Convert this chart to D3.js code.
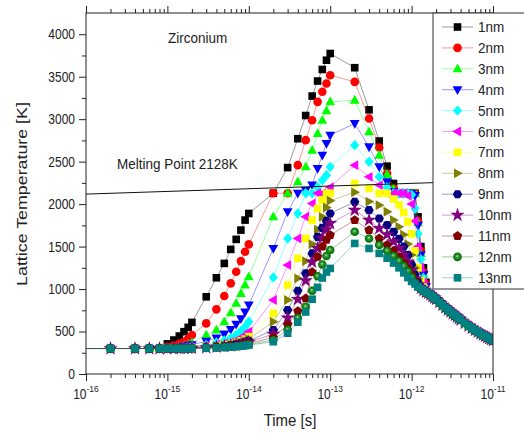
<!DOCTYPE html>
<html>
<head>
<meta charset="utf-8">
<script src="https://cdn.jsdelivr.net/npm/d3@7"></script>
<style>
  body { margin: 0; background: #fff; }
  svg { display: block; }
  text { font-family: "Liberation Sans", Arial, sans-serif; fill: #222; }
</style>
</head>
<body>
<svg id="chart" width="524" height="433"></svg>
<script>
// ---- time grid (s) for the heating / peak part of each run ----
const times = [
  5e-17, 2e-16, 4e-16, 6e-16, 8e-16,
  1e-15, 1.2e-15, 1.4e-15, 1.6e-15, 1.8e-15, 2e-15,
  3e-15, 4e-15, 5e-15, 6e-15, 7e-15, 8e-15, 9e-15, 1e-14,
  2e-14, 3e-14, 4e-14, 5e-14, 6e-14, 7e-14, 8e-14, 9e-14, 1e-13,
  2e-13, 3e-13, 4e-13, 5e-13, 6e-13, 7e-13, 8e-13, 9e-13, 1e-12,
  1.1e-12, 1.2e-12, 1.3e-12, 1.4e-12, 1.5e-12
];

// ---- lattice temperature (K) per particle size ----
const temp1nm  = [300,300,300,300,300, 355,400,447,498,549,608, 909,1133,1302,1467,1585,1694,1812,1890, 2128,2430,2770,3043,3272,3449,3585,3694,3773, 3606,3110,2743,2447,2243,2128,2128,2128,2128, 2128,1850,1500,1250,1080];
const temp2nm  = [300,300,300,300,300, 320,335,355,380,415,459, 596,761,918,1067,1204,1329,1439,1526, 2128,2128,2459,2753,2988,3204,3322,3420,3518, 3439,3008,2667,2361,2190,2128,2128,2128,2128, 2128,1800,1450,1200,1060];
const temp3nm  = [300,300,300,300,300, 305,312,322,335,350,370, 459,518,615,721,832,949,1047,1145, 1851,2128,2262,2439,2635,2831,2988,3100,3204, 3224,2851,2576,2350,2180,2128,2128,2128,2128, 2128,1780,1420,1180,1040];
const temp4nm  = [300,300,300,300,300, 303,308,315,325,335,345, 385,425,470,525,585,650,730,812, 1478,1910,2128,2160,2224,2420,2576,2714,2812, 2949,2674,2439,2262,2150,2128,2128,2128,2128, 2100,1750,1400,1170,1030];
const temp5nm  = [300,300,300,300,300, 302,305,308,312,318,325, 345,370,395,425,460,505,555,615, 1137,1596,1890,2128,2128,2200,2280,2341,2439, 2694,2498,2321,2200,2128,2128,2128,2128,2110, 1950,1650,1350,1130,1010];
const temp6nm  = [300,300,300,300,300, 301,303,305,308,311,315, 330,345,360,378,398,425,460,500, 871,1282,1596,1851,2008,2128,2128,2128,2200, 2459,2321,2224,2128,2128,2128,2128,2100,2000, 1800,1500,1250,1080,990];
const temp7nm  = [300,300,300,300,300, 300,302,304,306,308,310, 322,335,346,358,372,390,410,440, 714,1047,1361,1596,1812,1949,2050,2128,2128, 2243,2184,2128,2128,2060,1990,1900,1790,1650, 1450,1250,1100,1020,980];
const temp8nm  = [300,300,300,300,300, 300,301,303,305,306,308, 318,328,338,347,358,372,390,410, 615,871,1126,1330,1530,1700,1850,1960,2040, 2140,2030,1988,1910,1812,1733,1640,1530,1400, 1250,1120,1040,1000,975];
const temp9nm  = [300,300,300,300,300, 300,300,302,303,305,306, 314,322,330,338,348,360,375,390, 518,753,980,1185,1420,1615,1720,1800,1890, 2027,1929,1831,1753,1674,1590,1500,1400,1290, 1170,1080,1030,995,972];
const temp10nm = [300,300,300,300,300, 300,300,301,302,303,305, 311,318,325,332,340,350,362,375, 470,660,880,1100,1321,1480,1600,1700,1773, 1929,1812,1714,1640,1560,1480,1400,1320,1220, 1120,1050,1010,985,965];
const temp11nm = [300,300,300,300,300, 300,300,300,301,302,303, 308,314,320,326,333,340,350,360, 430,580,740,890,1200,1380,1500,1580,1635, 1812,1694,1596,1520,1450,1380,1310,1240,1170, 1090,1030,1000,978,960];
const temp12nm = [300,300,300,300,300, 300,300,300,300,301,302, 306,311,316,321,327,333,340,348, 400,520,660,792,980,1150,1290,1390,1459, 1674,1596,1518,1450,1390,1330,1270,1210,1140, 1075,1025,995,975,958];
const temp13nm = [300,300,300,300,300, 300,300,300,300,300,301, 305,309,313,317,322,327,333,340, 380,480,610,730,880,1020,1130,1200,1243, 1537,1478,1420,1364,1306,1250,1190,1135,1090, 1060,1030,1005,985,965];

// ---- common cooling tail: all sizes overlap here ----
const tailTimes = [1.6e-12,1.7e-12,1.8e-12,1.9e-12,2e-12, 2.2e-12,2.4e-12,2.6e-12,2.8e-12,3e-12,3.2e-12,3.4e-12,3.6e-12,3.8e-12,4e-12,
  4.5e-12,5e-12,5.5e-12,6e-12,6.5e-12,7e-12,7.5e-12,8e-12,8.5e-12,9e-12,9.5e-12,1e-11];
const tailTemps = [952,935,915,896,880, 845,812,782,756,733,712,692,673,655,638,
  600,567,540,516,495,476,460,445,431,418,406,395];

const seriesNames  = ["1nm","2nm","3nm","4nm","5nm","6nm","7nm","8nm","9nm","10nm","11nm","12nm","13nm"];
const seriesTemps  = [temp1nm,temp2nm,temp3nm,temp4nm,temp5nm,temp6nm,temp7nm,temp8nm,temp9nm,temp10nm,temp11nm,temp12nm,temp13nm];
const seriesColors = ["#000000","#ff0000","#00ff00","#0000ff","#00ffff","#ff00ff","#ffff00","#808000","#000080","#800080","#800000","#008000","#008080"];
const seriesShapes = ["square","circle","triUp","triDown","diamond","triLeft","square","triRight","hexagon","star","pentagon","sphere","square"];

// melting-point reference line
const meltTimes = [1e-16, 1e-11];
const meltTemps = [2118, 2276];

// axis ticks
const xDecades = [1e-16, 1e-15, 1e-14, 1e-13, 1e-12, 1e-11];
const yMajor = [0,500,1000,1500,2000,2500,3000,3500,4000];
const yMinor = [250,750,1250,1750,2250,2750,3250,3750];

// ---------------------------------------------------------------
const STRETCH = 1.15;   // text in this figure is drawn slightly tall
const svg = d3.select("#chart");
svg.append("rect").attr("width",524).attr("height",433).attr("fill","#fff");

const L = 86, R = 493, T = 13, B = 374;
const x = d3.scaleLog().domain([1e-16, 1e-11]).range([L, R]);
const y = d3.scaleLinear().domain([0, 4250]).range([B, T]);

const defs = svg.append("defs");
defs.append("clipPath").attr("id","plotClip")
  .append("rect").attr("x",L).attr("y",T).attr("width",R-L).attr("height",B-T);
const grad = defs.append("radialGradient").attr("id","sphereFill")
  .attr("cx","0.5").attr("cy","0.5").attr("r","0.5").attr("fx","0.45").attr("fy","0.4");
grad.append("stop").attr("offset","0").attr("stop-color","#b8e6b8");
grad.append("stop").attr("offset","0.35").attr("stop-color","#2e9a2e");
grad.append("stop").attr("offset","1").attr("stop-color","#006400");

function polygon(n, r, rot) {
  const pts = d3.range(n).map(i => {
    const a = rot + i * 2 * Math.PI / n;
    return [r * Math.cos(a), r * Math.sin(a)];
  });
  return "M" + pts.map(p => p[0].toFixed(2) + "," + p[1].toFixed(2)).join("L") + "Z";
}
function markerPath(shape) {
  switch (shape) {
    case "square":   return "M-3.8,-3.8H3.8V3.8H-3.8Z";
    case "circle":
    case "sphere":   return d3.symbol(d3.symbolCircle, 58)();
    case "triUp":    return "M0,-5.3L4.9,3.5L-4.9,3.5Z";
    case "triDown":  return "M0,5.3L4.9,-3.5L-4.9,-3.5Z";
    case "triLeft":  return "M-5.3,0L3.5,-4.9L3.5,4.9Z";
    case "triRight": return "M5.3,0L-3.5,-4.9L-3.5,4.9Z";
    case "diamond":  return "M0,-5.2L4.6,0L0,5.2L-4.6,0Z";
    case "hexagon":  return polygon(6, 4.7, 0);
    case "pentagon": return polygon(5, 4.9, -Math.PI / 2);
    case "star":     return d3.symbol(d3.symbolStar, 64)();
  }
}

// ---- series ----
const seriesData = seriesTemps.map((vals, i) => ({
  name: seriesNames[i], color: seriesColors[i], shape: seriesShapes[i],
  points: times.map((t, j) => [t, vals[j]]).concat(tailTimes.map((t, j) => [t, tailTemps[j]]))
}));

const plot = svg.append("g").attr("clip-path","url(#plotClip)");
const line = d3.line().x(d => x(d[0])).y(d => y(d[1]));

seriesData.forEach(s => {
  const g = plot.append("g");
  g.append("path").attr("d", line(s.points)).attr("fill","none")
    .attr("stroke", s.color).attr("stroke-width",0.8).attr("stroke-opacity",0.5);
  g.selectAll("path.m").data(s.points).join("path").attr("class","m")
    .attr("transform", d => `translate(${x(d[0])},${y(d[1])})`)
    .attr("d", markerPath(s.shape))
    .attr("fill", s.shape === "sphere" ? "url(#sphereFill)" : s.color);
});

// melting point line
plot.append("path")
  .attr("d", line(meltTimes.map((t, i) => [t, meltTemps[i]])))
  .attr("fill","none").attr("stroke","#111").attr("stroke-width",1);

// ---- axes ----
const xMinor = [];
xDecades.slice(0, -1).forEach(d => { for (let k = 2; k <= 9; k++) xMinor.push(d * k); });

function styleAxis(g) {
  g.select(".domain").remove();
  g.selectAll("line").attr("stroke","#222");
}
svg.append("g").attr("transform",`translate(0,${B})`)
  .call(d3.axisBottom(x).tickValues(xDecades).tickSize(7).tickFormat(() => "")).call(styleAxis);
svg.append("g").attr("transform",`translate(0,${B})`)
  .call(d3.axisBottom(x).tickValues(xMinor).tickSize(4).tickFormat(() => "")).call(styleAxis);
svg.append("g").attr("transform",`translate(0,${T})`)
  .call(d3.axisTop(x).tickValues(xDecades).tickSize(7).tickFormat(() => "")).call(styleAxis);
svg.append("g").attr("transform",`translate(0,${T})`)
  .call(d3.axisTop(x).tickValues(xMinor).tickSize(4).tickFormat(() => "")).call(styleAxis);

const yAxisG = svg.append("g").attr("transform",`translate(${L},0)`)
  .call(d3.axisLeft(y).tickValues(yMajor).tickSize(7).tickPadding(4).tickFormat(d3.format("d")))
  .call(styleAxis);
yAxisG.selectAll("text").attr("font-size",12).attr("fill","#222")
  .attr("font-family","Liberation Sans, Arial, sans-serif")
  .attr("transform",`scale(1,${STRETCH})`).attr("dy","0.32em")
  .attr("y", 0);
svg.append("g").attr("transform",`translate(${L},0)`)
  .call(d3.axisLeft(y).tickValues(yMinor).tickSize(4).tickFormat(() => "")).call(styleAxis);

// x tick labels as powers of ten
xDecades.forEach(v => {
  const g = svg.append("g").attr("transform",`translate(${x(v)},399) scale(1,${STRETCH})`);
  const t = g.append("text").attr("text-anchor","middle").attr("font-size",12);
  t.append("tspan").text("10");
  t.append("tspan").attr("dy",-6).attr("font-size",8.5).text(Math.round(Math.log10(v)));
});

// frame
svg.append("rect").attr("x",L).attr("y",T).attr("width",R-L).attr("height",B-T)
  .attr("fill","none").attr("stroke","#222").attr("stroke-width",1);

// ---- titles and annotations ----
function stretchedText(px, py, str, size, anchor, rotate) {
  const g = svg.append("g").attr("transform",`translate(${px},${py}) scale(1,${STRETCH})` + (rotate ? ` rotate(${rotate})` : ""));
  return g.append("text").attr("text-anchor", anchor).attr("font-size", size).text(str);
}
stretchedText(290, 426, "Time [s]", 15, "middle");
stretchedText(27, 194, "Lattice Temperature [K]", 15.5, "middle", -90);
stretchedText(168, 43, "Zirconium", 13.5, "start");
stretchedText(117, 169, "Melting Point 2128K", 13.5, "start");

// ---- legend ----
const lg = svg.append("g");
lg.append("rect").attr("x",433).attr("y",13).attr("width",100).attr("height",276)
  .attr("fill","#fff").attr("stroke","#333").attr("stroke-width",1);
seriesData.forEach((s, i) => {
  const cy = 27 + i * 20.9;
  lg.append("line").attr("x1",442).attr("x2",473).attr("y1",cy).attr("y2",cy)
    .attr("stroke", s.color).attr("stroke-width",0.8).attr("stroke-opacity",0.5);
  lg.append("path").attr("transform",`translate(457.5,${cy})`).attr("d", markerPath(s.shape))
    .attr("fill", s.shape === "sphere" ? "url(#sphereFill)" : s.color);
  const g = lg.append("g").attr("transform",`translate(478,${cy + 5}) scale(1,${STRETCH})`);
  g.append("text").attr("font-size",13.5).text(s.name);
});
</script>
</body>
</html>
